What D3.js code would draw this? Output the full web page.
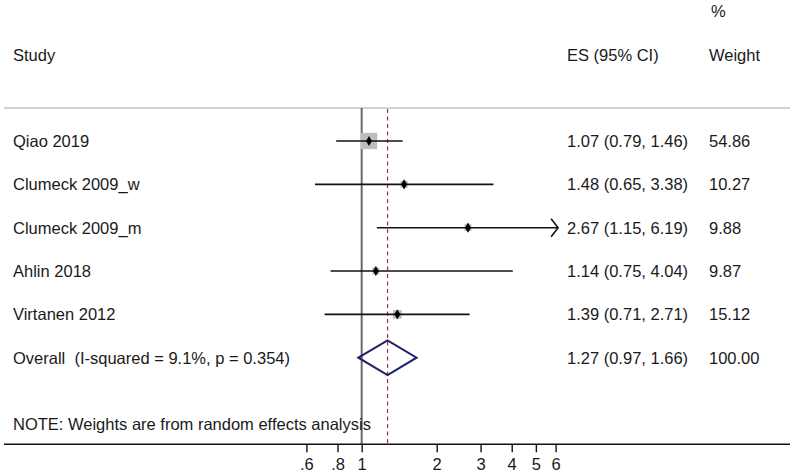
<!DOCTYPE html>
<html>
<head>
<meta charset="utf-8">
<script src="https://cdn.jsdelivr.net/npm/d3@7"></script>
<style>
  html, body { margin: 0; padding: 0; background: #fff; }
  text { font-family: "Liberation Sans", Arial, sans-serif; font-size: 16.5px; fill: #1a1a1a; white-space: pre; }
</style>
</head>
<body>
<script>
// study rows
var studies = ["Qiao 2019", "Clumeck 2009_w", "Clumeck 2009_m", "Ahlin 2018", "Virtanen 2012"];
var es      = [1.07, 1.48, 2.67, 1.14, 1.39];
var lower   = [0.79, 0.65, 1.15, 0.75, 0.71];
var upper   = [1.46, 3.38, 6.19, 4.04, 2.71];
var weights = [54.86, 10.27, 9.88, 9.87, 15.12];

// pooled estimate
var overallLabel = "Overall  (I-squared = 9.1%, p = 0.354)";
var overallEs = 1.27, overallLower = 0.97, overallUpper = 1.66, overallWeight = 100.00;

var tickValues = [0.6, 0.8, 1, 2, 3, 4, 5, 6];
var tickLabels = [".6", ".8", "1", "2", "3", "4", "5", "6"];
var note = "NOTE: Weights are from random effects analysis";

var width = 794, height = 475;
var svg = d3.select("body").append("svg")
    .attr("width", width)
    .attr("height", height);

var x = d3.scaleLog().domain([0.6, 6]).range([306.4, 555.6]);
var y = d3.scaleLinear().domain([0, 5]).range([141, 357.7]);
var boxSide = d3.scaleSqrt().domain([0, 54.86]).range([0, 16.3]);
var xTip = x.range()[1] + 2.5;   // where clipped CIs end with an arrow
var axisY = 444.3;

var fmt = d3.format(".2f");

// headers
svg.append("text").attr("x", 711).attr("y", 17).text("%");
svg.append("text").attr("x", 13).attr("y", 60.5).text("Study");
svg.append("text").attr("x", 567).attr("y", 60.5).text("ES (95% CI)");
svg.append("text").attr("x", 709).attr("y", 60.5).text("Weight");

svg.append("line")
    .attr("x1", 4).attr("x2", 790).attr("y1", 108).attr("y2", 108)
    .attr("stroke", "#c4c4c4").attr("stroke-width", 1.3);

// null line and pooled line
svg.append("line")
    .attr("x1", x(1)).attr("x2", x(1)).attr("y1", 108).attr("y2", axisY)
    .attr("stroke", "#6a6a6a").attr("stroke-width", 2);
svg.append("line")
    .attr("x1", x(overallEs)).attr("x2", x(overallEs)).attr("y1", 109).attr("y2", axisY)
    .attr("stroke", "#9a3048").attr("stroke-width", 1.2)
    .attr("stroke-dasharray", "4,3.5");

var rows = studies.map(function(s, i) {
    return {study: s, es: es[i], lo: lower[i], hi: upper[i], w: weights[i], i: i};
});

var g = svg.append("g");

// weight boxes
g.selectAll("rect.box").data(rows).enter().append("rect")
    .attr("class", "box")
    .attr("x", function(d) { return x(d.es) - boxSide(d.w) / 2; })
    .attr("y", function(d) { return y(d.i) - boxSide(d.w) / 2; })
    .attr("width", function(d) { return boxSide(d.w); })
    .attr("height", function(d) { return boxSide(d.w); })
    .attr("fill", "#bdbdbd");

// CI lines
g.selectAll("line.ci").data(rows).enter().append("line")
    .attr("class", "ci")
    .attr("x1", function(d) { return x(d.lo); })
    .attr("x2", function(d) { return d.hi > 6 ? xTip : x(d.hi); })
    .attr("y1", function(d) { return y(d.i); })
    .attr("y2", function(d) { return y(d.i); })
    .attr("stroke", "#111").attr("stroke-width", 1.6);

// arrows for clipped CIs
g.selectAll("path.arrow").data(rows.filter(function(d) { return d.hi > 6; })).enter().append("path")
    .attr("class", "arrow")
    .attr("d", function(d) {
        var cy = y(d.i);
        return "M" + (xTip - 7) + "," + (cy - 9) + "L" + xTip + "," + cy + "L" + (xTip - 7) + "," + (cy + 9);
    })
    .attr("fill", "none").attr("stroke", "#111").attr("stroke-width", 1.6);

// point estimates
g.selectAll("path.pt").data(rows).enter().append("path")
    .attr("class", "pt")
    .attr("transform", function(d) { return "translate(" + x(d.es) + "," + y(d.i) + ")"; })
    .attr("d", d3.symbol().type(d3.symbolDiamond).size(30))
    .attr("fill", "#000");

// study labels and values
g.selectAll("text.study").data(rows).enter().append("text")
    .attr("x", 13).attr("y", function(d) { return y(d.i) + 6; })
    .text(function(d) { return d.study; });
g.selectAll("text.esci").data(rows).enter().append("text")
    .attr("x", 567).attr("y", function(d) { return y(d.i) + 6; })
    .text(function(d) { return fmt(d.es) + " (" + fmt(d.lo) + ", " + fmt(d.hi) + ")"; });
g.selectAll("text.wt").data(rows).enter().append("text")
    .attr("x", 709).attr("y", function(d) { return y(d.i) + 6; })
    .text(function(d) { return fmt(d.w); });

// overall diamond
var oy = y(5);
svg.append("path")
    .attr("d", "M" + x(overallLower) + "," + oy +
               "L" + x(overallEs) + "," + (oy - 17.3) +
               "L" + x(overallUpper) + "," + oy +
               "L" + x(overallEs) + "," + (oy + 17.3) + "Z")
    .attr("fill", "none").attr("stroke", "#1f1f6b").attr("stroke-width", 2);
svg.append("text").attr("x", 13).attr("y", oy + 6).text(overallLabel);
svg.append("text").attr("x", 567).attr("y", oy + 6)
    .text(fmt(overallEs) + " (" + fmt(overallLower) + ", " + fmt(overallUpper) + ")");
svg.append("text").attr("x", 709).attr("y", oy + 6).text(fmt(overallWeight));

svg.append("text").attr("x", 13).attr("y", 429.5).text(note);

// x axis
svg.append("line")
    .attr("x1", 4).attr("x2", 790).attr("y1", axisY).attr("y2", axisY)
    .attr("stroke", "#111").attr("stroke-width", 1.6);

var axis = d3.axisBottom(x)
    .tickValues(tickValues)
    .tickFormat(function(d, i) { return tickLabels[i]; })
    .tickSize(8)
    .tickPadding(4);

var ax = svg.append("g")
    .attr("transform", "translate(0," + axisY + ")")
    .call(axis);
ax.select(".domain").remove();
ax.selectAll(".tick line").attr("stroke", "#111").attr("stroke-width", 1.4);
ax.selectAll(".tick text")
    .attr("font-family", null).attr("font-size", null)
    .attr("dy", null).attr("y", 26)
    .style("fill", "#1a1a1a");
</script>
</body>
</html>
